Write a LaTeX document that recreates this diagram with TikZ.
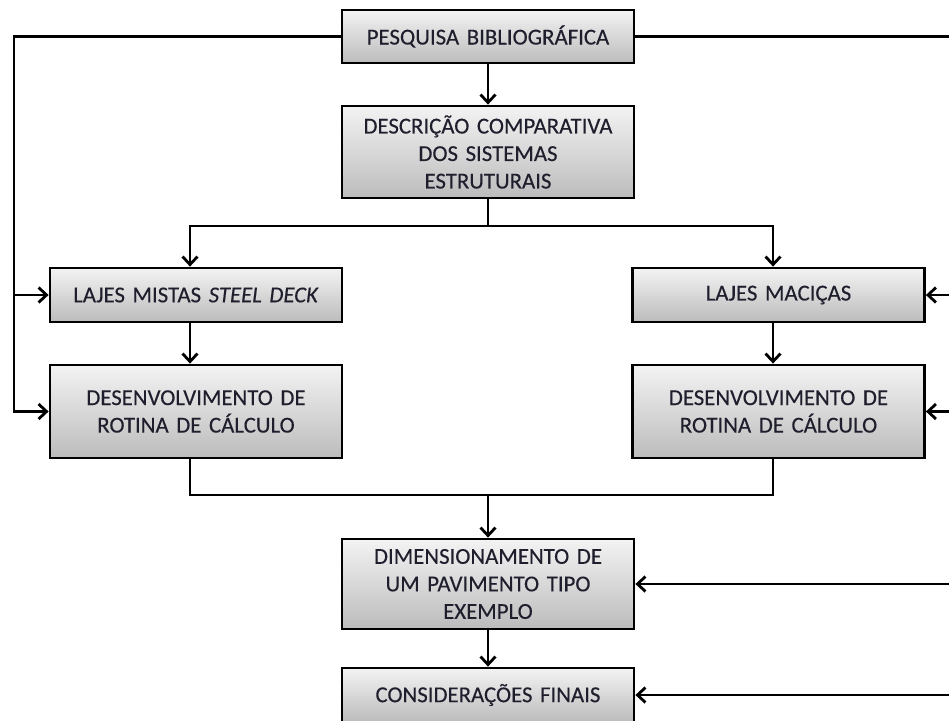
\documentclass[tikz,border=0pt]{standalone}
\usepackage{fontspec}
\setmainfont{Carlito}[FakeBold=0.25]
\usetikzlibrary{arrows.meta}
\definecolor{txt}{RGB}{30,30,45}
\definecolor{boxtop}{RGB}{243,243,243}
\definecolor{boxbot}{RGB}{188,188,188}
\begin{document}
\begin{tikzpicture}[x=1pt,y=-1pt,
  box/.style={draw=black, line width=2.8pt, top color=boxtop, bottom color=boxbot,
    minimum width=292pt, inner sep=0pt, text width=286pt, align=center,
    font=\fontsize{22.8}{27.5}\selectfont, text=txt},
  conn/.style={line width=2.8pt, line join=miter},
  arr/.style={conn, -{Straight Barb[length=8pt,width=15pt]}}]
\useasboundingbox (0,0) rectangle (949,720);

\node[box, minimum height=53pt] (pesq) at (488,36.5) {PESQUISA BIBLIOGRÁFICA};
\node[box, minimum height=92pt] (desc) at (488,152) {DESCRIÇÃO COMPARATIVA\\DOS SISTEMAS\\ESTRUTURAIS};
\node[box, minimum height=54pt] (mist) at (196,295) {LAJES MISTAS \textit{STEEL DECK}};
\node[box, minimum height=54pt] (maci) at (778.5,295) {LAJES MACIÇAS};
\node[box, minimum height=93pt] (desL) at (196,411.5) {DESENVOLVIMENTO DE\\ROTINA DE CÁLCULO};
\node[box, minimum height=93pt] (desR) at (778.5,411.5) {DESENVOLVIMENTO DE\\ROTINA DE CÁLCULO};
\node[box, minimum height=90pt] (dim) at (488,584) {DIMENSIONAMENTO DE\\UM PAVIMENTO TIPO\\EXEMPLO};
\node[box, minimum height=54pt] (cons) at (488,695) {CONSIDERAÇÕES FINAIS};

\coordinate (sL) at (190,226);
\coordinate (sR) at (773,226);
\coordinate (mL) at (190,495);
\coordinate (mR) at (773,495);
\coordinate (fL) at (14,0);
\coordinate (fR) at (962,0);

\draw[arr] (pesq) -- (desc);
\draw[arr] (desc.south) |- (sL) -- (sL |- mist.north);
\draw[arr] (desc.south) |- (sR) -- (sR |- maci.north);
\draw[arr] (sL |- mist.south) -- (sL |- desL.north);
\draw[arr] (sR |- maci.south) -- (sR |- desR.north);
\draw[conn] (sL |- desL.south) |- (mR) -- (mR |- desR.south);
\draw[arr] (dim.north |- mL) -- (dim.north);
\draw[arr] (dim) -- (cons);

\draw[arr] (pesq.west) -| (fL |- desL) -- (desL.west);
\draw[arr] (fL |- mist) -- (mist.west);

\draw[conn] (pesq.east) -| (fR |- cons);
\draw[arr] (fR |- maci) -- (maci.east);
\draw[arr] (fR |- desR) -- (desR.east);
\draw[arr] (fR |- dim) -- (dim.east);
\draw[arr] (fR |- cons) -- (cons.east);
\end{tikzpicture}
\end{document}
